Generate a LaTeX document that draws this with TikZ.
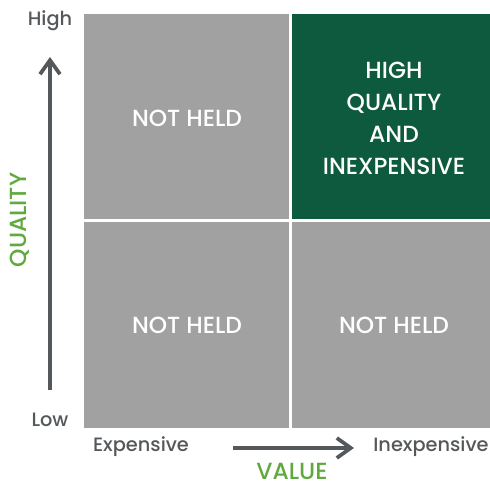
\documentclass[tikz,border=0pt]{standalone}
\usepackage{fontspec}
\setmainfont{Poppins Medium}
\usetikzlibrary{arrows.meta}
\definecolor{cellgray}{HTML}{A0A1A0}
\definecolor{cellgreen}{HTML}{0E5A3F}
\definecolor{axisgray}{HTML}{55585A}
\definecolor{labelgreen}{HTML}{5FA93F}
\tikzset{
  cell/.style={fill=cellgray, draw=none},
  celltext/.style={text=white, font=\fontsize{17.5}{24}\selectfont, align=center},
  axistext/.style={text=axisgray, font=\fontsize{14.5}{17}\selectfont},
  axisname/.style={text=labelgreen, font=\fontsize{17.5}{20}\selectfont, inner sep=0pt},
  axisarrow/.style={draw=axisgray, line width=3.2pt, -{Straight Barb[length=10.5pt,width=15pt,line width=2.8pt]}}
}
\begin{document}
\begin{tikzpicture}[x=0.75pt,y=0.75pt]
        \useasboundingbox (0,0) rectangle (490,486);
        % quadrants
        \fill[cell] (84,267) rectangle (289,472);
        \fill[cellgreen] (292,267) rectangle (490,472);
        \fill[cell] (84,58) rectangle (289,264);
        \fill[cell] (292,58) rectangle (490,264);
        \node[celltext] (tl) at (187,368) {NOT HELD};
        \node[celltext] (tr) at (394,368) {HIGH\\QUALITY\\AND\\INEXPENSIVE};
        \node[celltext] (bl) at (187,161) {NOT HELD};
        \node[celltext] (br) at (394,161) {NOT HELD};
        % quality axis
        \node[axistext] (high) at (50,465) {High};
        \node[axistext] (low) at (50,66) {Low};
        \coordinate (qstart) at (50,96);
        \coordinate (qend) at (50,429);
        \draw[axisarrow] (qstart) -- (qend);
        \node[axisname, rotate=90] (quality) at (20,266) {QUALITY};
        % value axis
        \node[axistext] (exp) at (141,39) {Expensive};
        \node[axistext] (inexp) at (431,39) {Inexpensive};
        \coordinate (vstart) at (233,38);
        \coordinate (vend) at (354,38);
        \draw[axisarrow] (vstart) -- (vend);
        \node[axisname] (value) at (292,15) {VALUE};
    \end{tikzpicture}
\end{document}
